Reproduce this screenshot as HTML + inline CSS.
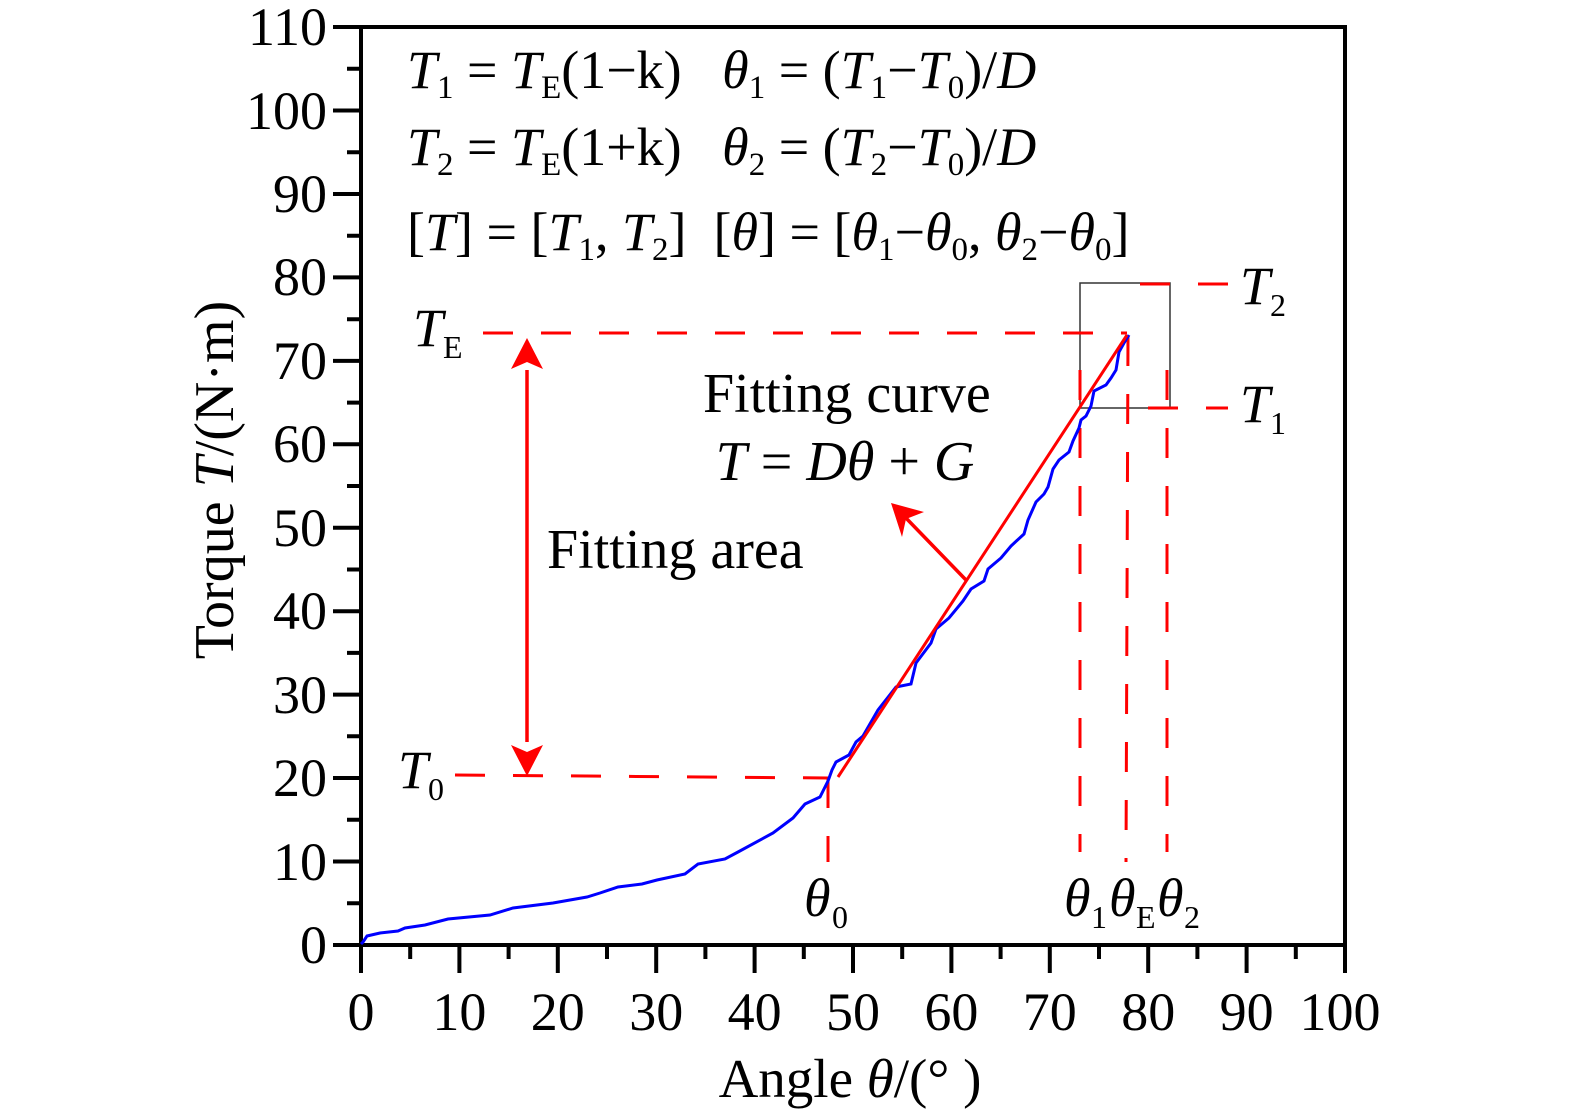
<!DOCTYPE html>
<html><head><meta charset="utf-8"><style>
html,body{margin:0;padding:0;background:#fff;}
svg{display:block;font-family:"Liberation Serif",serif;}
</style></head><body>
<svg width="1575" height="1118" viewBox="0 0 1575 1118" xmlns="http://www.w3.org/2000/svg">
<rect x="361" y="27" width="984" height="918" fill="none" stroke="#000" stroke-width="4"/>
<g stroke="#000" stroke-width="4">
<path d="M361 945v28M459.4 945v28M557.8 945v28M656.2 945v28M754.6 945v28M853 945v28M951.4 945v28M1049.8 945v28M1148.2 945v28M1246.6 945v28M1345 945v28"/>
<path d="M410.2 945v14M508.6 945v14M607 945v14M705.4 945v14M803.8 945v14M902.2 945v14M1000.6 945v14M1099 945v14M1197.4 945v14M1295.8 945v14"/>
<path d="M333 945h28M333 861.5h28M333 778h28M333 694.6h28M333 611.2h28M333 527.8h28M333 444.3h28M333 360.9h28M333 277.4h28M333 194h28M333 110.5h28M333 27h28"/>
<path d="M347 903.3h14M347 819.8h14M347 736.3h14M347 652.9h14M347 569.5h14M347 486h14M347 402.6h14M347 319.2h14M347 235.7h14M347 152.3h14M347 68.8h14"/>
</g>
<g font-size="54" fill="#000" text-anchor="end">
<text x="327" y="963">0</text>
<text x="327" y="880">10</text>
<text x="327" y="796">20</text>
<text x="327" y="713">30</text>
<text x="327" y="629">40</text>
<text x="327" y="546">50</text>
<text x="327" y="462">60</text>
<text x="327" y="379">70</text>
<text x="327" y="295">80</text>
<text x="327" y="212">90</text>
<text x="327" y="129">100</text>
<text x="327" y="45">110</text>
</g>
<g font-size="54" fill="#000" text-anchor="middle">
<text x="361" y="1030">0</text>
<text x="459.4" y="1030">10</text>
<text x="557.8" y="1030">20</text>
<text x="656.2" y="1030">30</text>
<text x="754.6" y="1030">40</text>
<text x="853" y="1030">50</text>
<text x="951.4" y="1030">60</text>
<text x="1049.8" y="1030">70</text>
<text x="1148.2" y="1030">80</text>
<text x="1246.6" y="1030">90</text>
<text x="1340" y="1030">100</text>
</g>
<text x="850" y="1097" font-size="55" text-anchor="middle">Angle <tspan font-style="italic">θ</tspan>/(° )</text>
<text transform="translate(233,480) rotate(-90)" font-size="56" text-anchor="middle">Torque <tspan font-style="italic">T</tspan>/(N·m)</text>

<g font-size="54" fill="#000">
<text x="407" y="88"><tspan font-style="italic">T</tspan><tspan font-size="33" dy="10">1</tspan><tspan dy="-10">&#160;=&#160;</tspan><tspan font-style="italic">T</tspan><tspan font-size="33" dy="10">E</tspan><tspan dy="-10">(1−k)&#160;&#160;&#160;</tspan><tspan font-style="italic">θ</tspan><tspan font-size="33" dy="10">1</tspan><tspan dy="-10">&#160;=&#160;(</tspan><tspan font-style="italic">T</tspan><tspan font-size="33" dy="10">1</tspan><tspan dy="-10">−</tspan><tspan font-style="italic">T</tspan><tspan font-size="33" dy="10">0</tspan><tspan dy="-10">)/</tspan><tspan font-style="italic">D</tspan></text>
<text x="407" y="165"><tspan font-style="italic">T</tspan><tspan font-size="33" dy="10">2</tspan><tspan dy="-10">&#160;=&#160;</tspan><tspan font-style="italic">T</tspan><tspan font-size="33" dy="10">E</tspan><tspan dy="-10">(1+k)&#160;&#160;&#160;</tspan><tspan font-style="italic">θ</tspan><tspan font-size="33" dy="10">2</tspan><tspan dy="-10">&#160;=&#160;(</tspan><tspan font-style="italic">T</tspan><tspan font-size="33" dy="10">2</tspan><tspan dy="-10">−</tspan><tspan font-style="italic">T</tspan><tspan font-size="33" dy="10">0</tspan><tspan dy="-10">)/</tspan><tspan font-style="italic">D</tspan></text>
<text x="407" y="250">[<tspan font-style="italic">T</tspan>]&#160;=&#160;[<tspan font-style="italic">T</tspan><tspan font-size="33" dy="10">1</tspan><tspan dy="-10">,&#160;</tspan><tspan font-style="italic">T</tspan><tspan font-size="33" dy="10">2</tspan><tspan dy="-10">]&#160;&#160;[</tspan><tspan font-style="italic">θ</tspan>]&#160;=&#160;[<tspan font-style="italic">θ</tspan><tspan font-size="33" dy="10">1</tspan><tspan dy="-10">−</tspan><tspan font-style="italic">θ</tspan><tspan font-size="33" dy="10">0</tspan><tspan dy="-10">,&#160;</tspan><tspan font-style="italic">θ</tspan><tspan font-size="33" dy="10">2</tspan><tspan dy="-10">−</tspan><tspan font-style="italic">θ</tspan><tspan font-size="33" dy="10">0</tspan><tspan dy="-10">]</tspan></text>
<text x="703" y="412" font-size="56">Fitting curve</text>
<text x="845" y="480" font-size="56" text-anchor="middle"><tspan font-style="italic">T</tspan>&#160;=&#160;<tspan font-style="italic">Dθ</tspan>&#160;+&#160;<tspan font-style="italic">G</tspan></text>
<text x="547" y="568" font-size="56">Fitting area</text>
<text x="413" y="346" font-size="54" font-style="italic">T</text><text x="443" y="358" font-size="32">E</text>
<text x="398" y="788" font-size="54" font-style="italic">T</text><text x="428" y="800" font-size="32">0</text>
<text x="1240" y="304" font-size="54" font-style="italic">T</text><text x="1270" y="316" font-size="32">2</text>
<text x="1240" y="422" font-size="54" font-style="italic">T</text><text x="1270" y="434" font-size="32">1</text>
<text x="804" y="916" font-size="54" font-style="italic">θ</text><text x="832" y="928" font-size="32">0</text>
<text x="1064" y="916" font-size="54" font-style="italic">θ</text><text x="1091" y="928" font-size="32">1</text>
<text x="1109" y="916" font-size="54" font-style="italic">θ</text><text x="1136" y="928" font-size="32">E</text>
<text x="1157" y="916" font-size="54" font-style="italic">θ</text><text x="1184" y="928" font-size="32">2</text>
</g>

<rect x="1080" y="283" width="90" height="125" fill="none" stroke="#333" stroke-width="1.5"/>

<g stroke="#ff0000" stroke-width="3" fill="none" stroke-dasharray="30 28">
<path d="M483 333H1127"/>
<path d="M455 775L828 778"/>
<path d="M828 778V862"/>
<path d="M1080 370V852"/>
<path d="M1128 336L1126 862"/>
<path d="M1167 370V852"/>
<path d="M1140 284H1228"/>
<path d="M1148 408H1228"/>
</g>

<polyline fill="none" stroke="#0000ff" stroke-width="3" points="361,944 363,942 367,936 380,933 398,931 405,928 425,925 448,919 490,915 513,908 553,903 587,897 600,893 618,887 642,884 657,880 685,874 698,864 725,859 738,852 773,833 793,818 805,804 820,797 828,781 832,770 836,762 849,755 856,742 863,736 878,710 896,687 911,684 916,663 931,643 936,629 949,618 963,601 971,589 984,581 988,569 1001,558 1011,546 1024,534 1028,520 1036,502 1044,494 1048,487 1053,469 1059,460 1069,452 1073,441 1079,428 1081,420 1086,416 1091,406 1094,391 1106,385 1111,378 1116,370 1119,352 1124,343 1129,335"/>

<path d="M838 777L1127 335" stroke="#ff0000" stroke-width="3" fill="none"/>
<path d="M966 580L905 517" stroke="#ff0000" stroke-width="3.5" fill="none"/>
<path d="M891 503L924 512L906 519L902 537Z" fill="#ff0000"/>
<path d="M527 370V742" stroke="#ff0000" stroke-width="3.5"/>
<path d="M527 338L511 369L527 362L543 369Z" fill="#ff0000"/>
<path d="M527 776L511 745L527 752L543 745Z" fill="#ff0000"/>
</svg>
</body></html>
